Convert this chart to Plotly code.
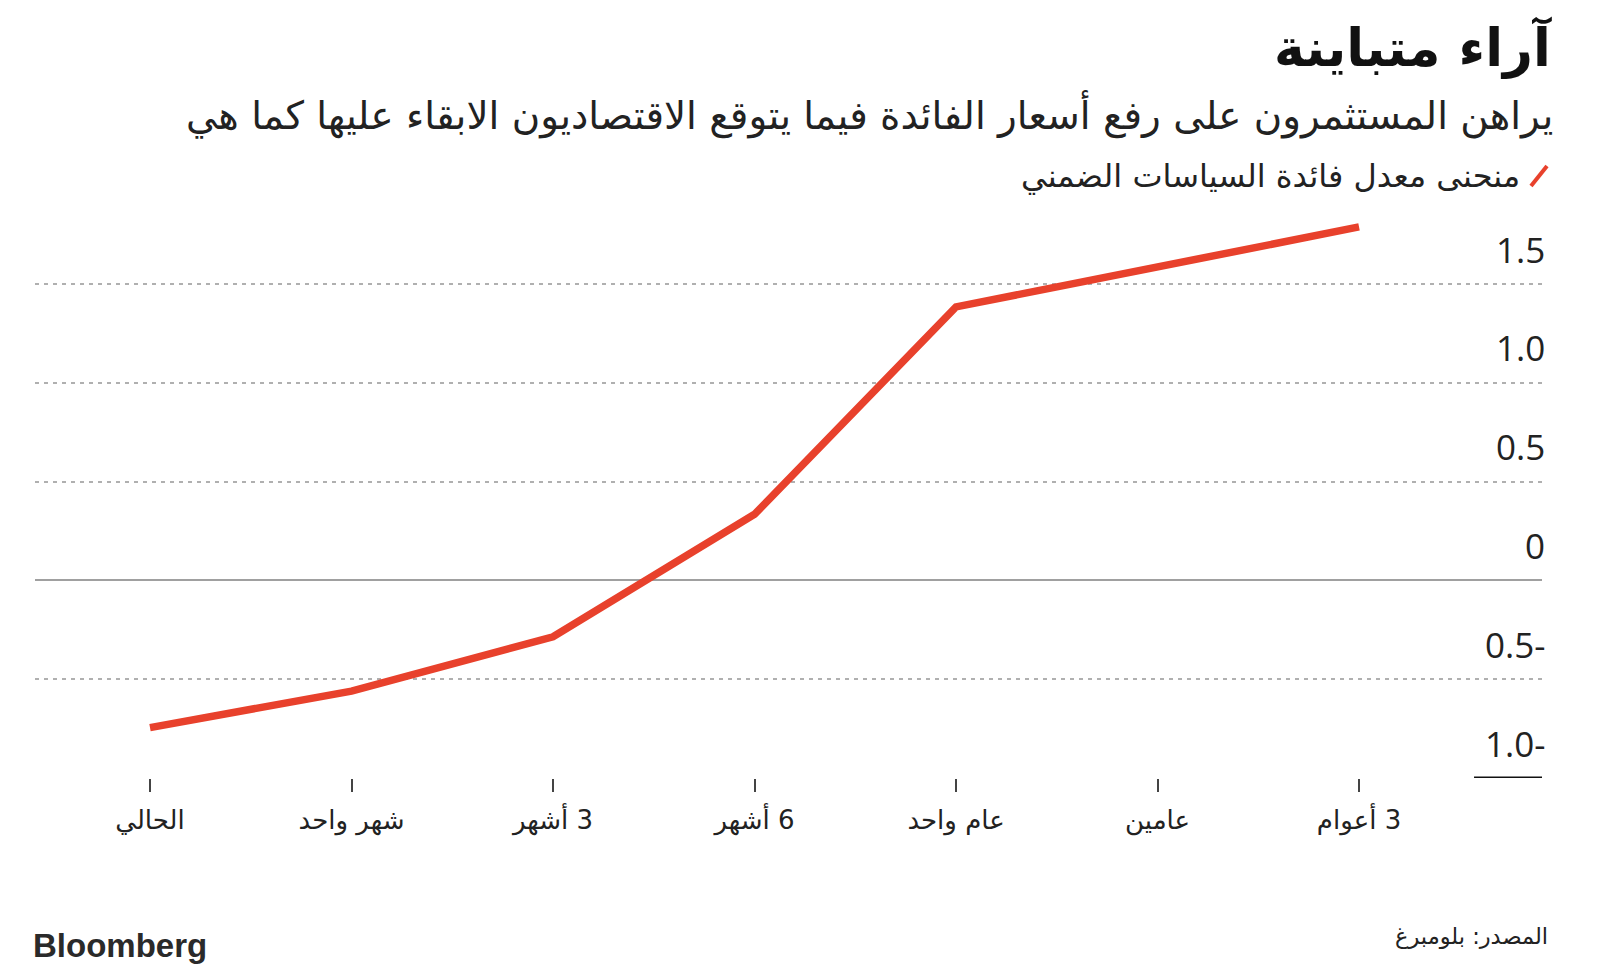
import plotly.graph_objects as go

# ---- data ----
categories = ["الحالي", "شهر واحد", "3 أشهر", "6 أشهر", "عام واحد", "عامين", "3 أعوام"]
implied_rate = [-0.745, -0.56, -0.285, 0.335, 1.385, 1.59, 1.79]
y_grid_vals = [-0.5, 0, 0.5, 1.0, 1.5]
y_label_vals = [-1.0, -0.5, 0, 0.5, 1.0, 1.5]
y_label_text = ["1.0-", "0.5-", "0", "0.5", "1.0", "1.5"]

title = "آراء متباينة"
subtitle = "يراهن المستثمرون على رفع أسعار الفائدة فيما يتوقع الاقتصاديون الابقاء عليها كما هي"
legend_name = "منحنى معدل فائدة السياسات الضمني"
source = "المصدر: بلومبرغ"

RED = "#E8412C"
RLM = "\u200f"

x_idx = list(range(len(categories)))

fig = go.Figure()
fig.add_trace(go.Scatter(
    x=x_idx, y=implied_rate, mode="lines",
    line=dict(color=RED, width=7.5),
    name=legend_name, showlegend=False, hoverinfo="skip",
))

fig.update_layout(
    width=1600, height=978,
    margin=dict(l=27, r=66, t=182, b=208),
    paper_bgcolor="white", plot_bgcolor="white",
    font=dict(family="DejaVu Sans, Noto Sans, sans-serif", color="#222"),
    xaxis=dict(
        range=[-0.5707, 6.908],
        tickmode="array", tickvals=x_idx,
        ticktext=[RLM + c for c in categories],
        showgrid=False, zeroline=False, showline=False,
        ticks="outside", ticklen=13, tickwidth=1.5, tickcolor="#444",
        ticklabelstandoff=6,
        tickfont=dict(size=26, color="#222"),
        fixedrange=True,
    ),
    yaxis=dict(
        range=[-1.0, 1.977],
        tickmode="array", tickvals=y_grid_vals,
        showticklabels=False,
        showgrid=True, gridcolor="#b0b0b0", gridwidth=2, griddash="4px,5px",
        zeroline=True, zerolinecolor="#a0a0a0", zerolinewidth=2,
        showline=False, fixedrange=True,
    ),
)

# bottom solid black short line at -1.0
fig.add_shape(type="line", xref="paper", yref="y", x0=0.9549, x1=1.0, y0=-1.0, y1=-1.0,
              line=dict(color="#111", width=3))

# y labels above gridlines
for v, t in zip(y_label_vals, y_label_text):
    fig.add_annotation(x=1.0, xref="paper", xshift=5, y=v, yref="y", text=t, showarrow=False,
                       xanchor="right", yanchor="middle", yshift=35,
                       font=dict(family="Open Sans, Noto Sans, sans-serif", size=35, color="#222"))

# title, subtitle
fig.add_annotation(x=1.0, xref="paper", xshift=12, y=1.243, yref="paper", text="<b>" + title + "</b>",
                   showarrow=False, xanchor="right", yanchor="middle",
                   font=dict(size=52, color="#111"))
fig.add_annotation(x=1.0, xref="paper", xshift=13, y=1.129, yref="paper", text=subtitle,
                   showarrow=False, xanchor="right", yanchor="middle",
                   font=dict(size=38.8, color="#222"))
# legend
fig.add_annotation(x=1.0, xref="paper", xshift=-20, y=1.0238, yref="paper", text=legend_name,
                   showarrow=False, xanchor="right", yanchor="middle",
                   font=dict(size=32, color="#222"))
fig.add_shape(type="line", xref="paper", yref="paper",
              x0=(1531 - 35) / 1507, x1=(1547 - 35) / 1507,
              y0=(778 - 186) / 588, y1=(778 - 166) / 588,
              line=dict(color=RED, width=4))

# footer
fig.add_annotation(x=0, xref="paper", xshift=-4, y=-0.2857, yref="paper", text="<b>Bloomberg</b>",
                   showarrow=False, xanchor="left", yanchor="middle",
                   font=dict(family="Liberation Sans, Arial, sans-serif", size=33, color="#2a2a2a"))
fig.add_annotation(x=1.0, xref="paper", xshift=8, y=-0.270, yref="paper", text=source,
                   showarrow=False, xanchor="right", yanchor="middle",
                   font=dict(size=22.5, color="#222"))

fig.write_html("out.html")
